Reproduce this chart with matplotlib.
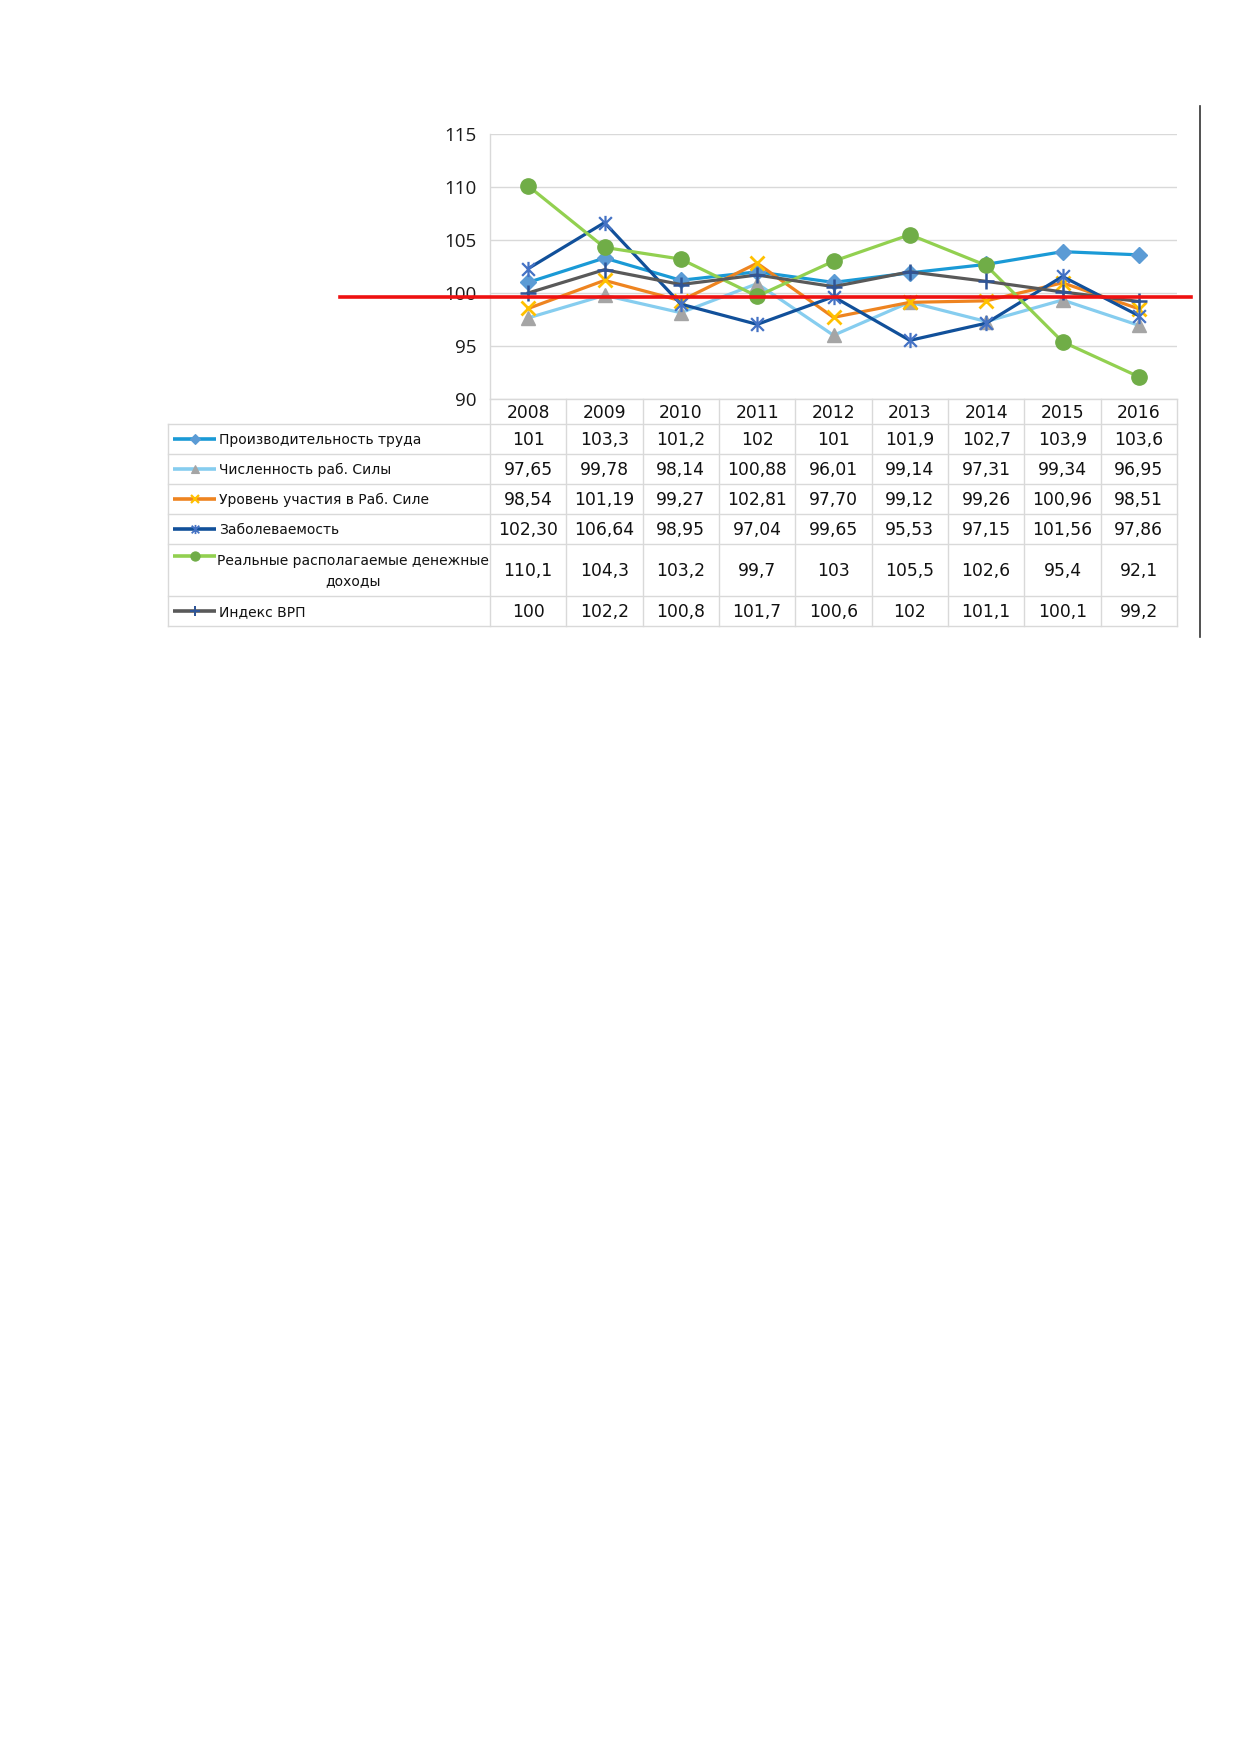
import matplotlib
matplotlib.use("Agg")
import matplotlib.pyplot as plt
from matplotlib.path import Path
from matplotlib.transforms import blended_transform_factory
import numpy as np

# ---------------- data ----------------
years = ["2008", "2009", "2010", "2011", "2012", "2013", "2014", "2015", "2016"]

labels = [
    "Производительность труда",
    "Численность раб. Силы",
    "Уровень участия в Раб. Силе",
    "Заболеваемость",
    "Реальные располагаемые денежные\nдоходы",
    "Индекс ВРП",
]

productivity = [101, 103.3, 101.2, 102, 101, 101.9, 102.7, 103.9, 103.6]
labour_force = [97.65, 99.78, 98.14, 100.88, 96.01, 99.14, 97.31, 99.34, 96.95]
participation = [98.54, 101.19, 99.27, 102.81, 97.70, 99.12, 99.26, 100.96, 98.51]
morbidity = [102.30, 106.64, 98.95, 97.04, 99.65, 95.53, 97.15, 101.56, 97.86]
real_income = [110.1, 104.3, 103.2, 99.7, 103, 105.5, 102.6, 95.4, 92.1]
grp_index = [100, 102.2, 100.8, 101.7, 100.6, 102, 101.1, 100.1, 99.2]

series = [productivity, labour_force, participation, morbidity, real_income, grp_index]
formats = ["g", ".2f", ".2f", ".2f", "g", "g"]

yticks = [90, 95, 100, 105, 110, 115]
ref_level = 99.62  # red reference line

# ---------------- styles ----------------
star = Path([(-0.5, -0.5), (0.5, 0.5), (-0.5, 0.5), (0.5, -0.5), (0, -0.6), (0, 0.6)],
            [Path.MOVETO, Path.LINETO, Path.MOVETO, Path.LINETO, Path.MOVETO, Path.LINETO])

styles = [
    dict(color="#1A9AD6", marker="D", ms=8, mfc="#5B9BD5", mec="#5B9BD5", mew=1),
    dict(color="#86CDEF", marker="^", ms=10, mfc="#A5A5A5", mec="#A5A5A5", mew=1),
    dict(color="#EE8420", marker="x", ms=10, mfc="#FFC000", mec="#FFC000", mew=2),
    dict(color="#11509A", marker=star, ms=11, mfc="none", mec="#4472C4", mew=1.6),
    dict(color="#92D050", marker="o", ms=11, mfc="#70AD47", mec="#70AD47", mew=1),
    dict(color="#595959", marker="+", ms=11, mfc="#2F5597", mec="#2F5597", mew=1.8),
]

W, H = 1239, 1752
fig = plt.figure(figsize=(W / 100, H / 100), dpi=100)
fig.patch.set_facecolor("white")

# pixel geometry
px_left, px_right = 490, 1177
px_top, px_bottom = 134, 399

ax = fig.add_axes([px_left / W, 1 - px_bottom / H, (px_right - px_left) / W, (px_bottom - px_top) / H])
ax.set_xlim(-0.5, len(years) - 0.5)
ax.set_ylim(yticks[0], yticks[-1])
ax.set_yticks(yticks)
ax.set_yticklabels([str(t) for t in yticks], fontsize=13.5, family=["Open Sans", "DejaVu Sans"], color="#1a1a1a")
ax.set_xticks([])
ax.tick_params(axis="y", length=0, pad=10)
for s in ["top", "right", "bottom"]:
    ax.spines[s].set_visible(False)
ax.spines["left"].set_color("#D9D9D9")
ax.spines["left"].set_linewidth(1)
ax.grid(axis="y", color="#D9D9D9", lw=1)
ax.set_axisbelow(True)

x = np.arange(len(years))
for vals, st in zip(series, styles):
    ax.plot(x, vals, lw=2.3, clip_on=False, zorder=3, **st)

# overlay axes in pixel coordinates
ov = fig.add_axes([0, 0, 1, 1], zorder=5)
ov.set_xlim(0, W)
ov.set_ylim(H, 0)
ov.axis("off")
ov.patch.set_alpha(0)

# red reference line (x in pixels, y in data units)
red_tr = blended_transform_factory(ov.transData, ax.transData)
ov.plot([340, 1191], [ref_level, ref_level], color="#EE1111", lw=2.6, transform=red_tr,
        clip_on=False, zorder=10)

# vertical page line on the right
ov.plot([1200, 1200], [106, 637], color="#333333", lw=1.2)

# ---------------- table ----------------
tab_tr = blended_transform_factory(ax.transData, ov.transData)
grid_c = "#D9D9D9"
rows_y = [399, 424, 454, 484, 514, 544, 596, 626]
tab_left = 168
font_tab = ["DejaVu Sans"]

# horizontal lines
ov.plot([px_left, px_right], [rows_y[0], rows_y[0]], color=grid_c, lw=1)
for yy in rows_y[1:]:
    ov.plot([tab_left, px_right], [yy, yy], color=grid_c, lw=1)
# vertical lines
for i in range(len(years) + 1):
    ov.plot([i - 0.5, i - 0.5], [rows_y[0], rows_y[-1]], color=grid_c, lw=1, transform=tab_tr)
ov.plot([tab_left, tab_left], [rows_y[1], rows_y[-1]], color=grid_c, lw=1)

# year header
for i, yr in enumerate(years):
    ov.text(i, (rows_y[0] + rows_y[1]) / 2 + 1, yr, transform=tab_tr, ha="center", va="center",
            fontsize=12.3, family=font_tab, color="#111111")

# rows
for r, (lab, vals, fmt, st) in enumerate(zip(labels, series, formats, styles)):
    y0, y1 = rows_y[r + 1], rows_y[r + 2]
    yc = (y0 + y1) / 2
    for i, v in enumerate(vals):
        txt = format(v, fmt).replace(".", ",")
        ov.text(i, yc + 1, txt, transform=tab_tr, ha="center", va="center",
                fontsize=12.3, family=font_tab, color="#111111")
    multi = "\n" in lab
    ly = y0 + 12 if multi else yc
    ov.plot([173, 216], [ly, ly], lw=2.6, color=st["color"], solid_capstyle="butt")
    ov.plot([194.5], [ly], lw=0, marker=st["marker"], ms=st["ms"] * 0.6, mfc=st["mfc"],
            mec=st["mec"], mew=st["mew"] * 0.8)
    if multi:
        ov.text(353, yc + 1, lab, ha="center", va="center", fontsize=10, family=font_tab,
                color="#111111", linespacing=1.6)
    else:
        ov.text(219, yc + 1, lab, ha="left", va="center", fontsize=10, family=font_tab,
                color="#111111")

fig.savefig("out.png", dpi=100, facecolor="white")
